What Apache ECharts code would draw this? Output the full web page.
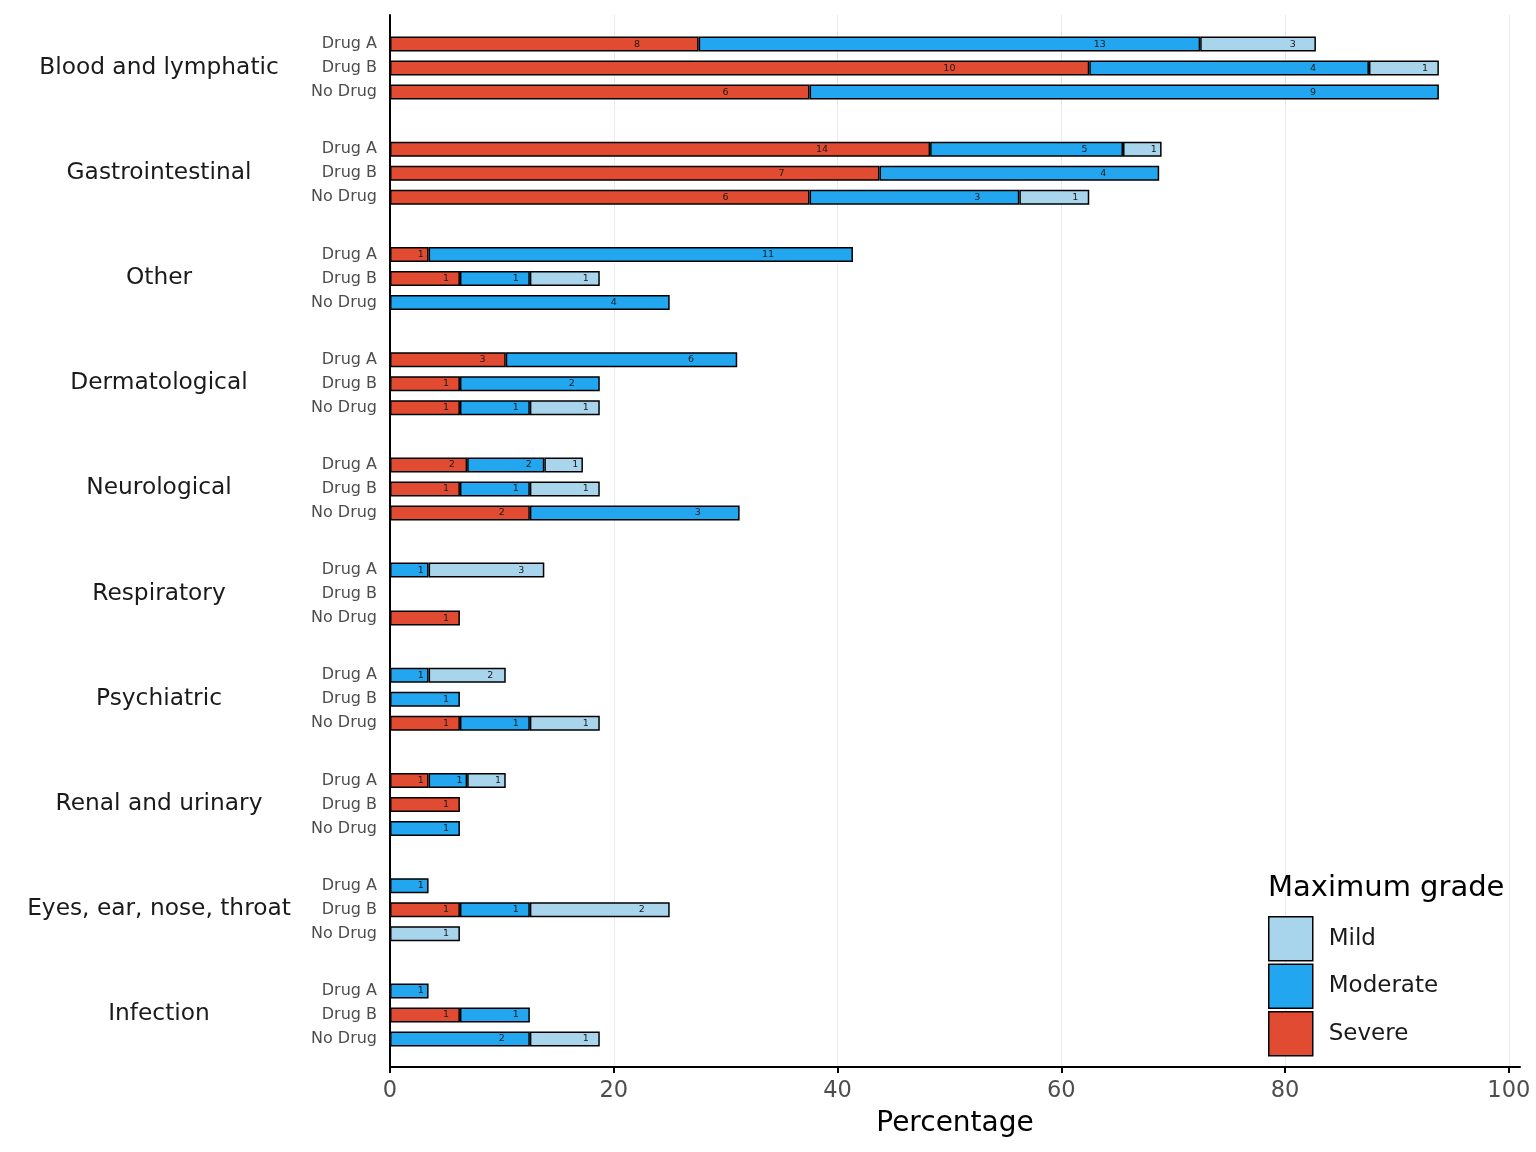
<!DOCTYPE html>
<html>
<head>
<meta charset="utf-8">
<script src="https://cdn.jsdelivr.net/npm/echarts@6/dist/echarts.min.js"></script>
<style>
html,body{margin:0;padding:0;background:#fff;}
#chart{width:1536px;height:1152px;}
</style>
</head>
<body>
<div id="chart"></div>
<script>
// ---- data ----
const groups = ['Blood and lymphatic','Gastrointestinal','Other','Dermatological','Neurological','Respiratory','Psychiatric','Renal and urinary','Eyes, ear, nose, throat','Infection'];
const arms = ['Drug A','Drug B','No Drug'];
const armSizes = [29, 16, 16];
const grades = ['Severe','Moderate','Mild'];
// counts per group: [Drug A, Drug B, No Drug]
const severeCounts   = [[8,10,6],[14,7,6],[1,1,0],[3,1,1],[2,1,2],[0,0,1],[0,0,1],[1,1,0],[0,1,0],[0,1,0]];
const moderateCounts = [[13,4,9],[5,4,3],[11,1,4],[6,2,1],[2,1,3],[1,0,0],[1,1,1],[1,0,1],[1,1,0],[1,1,2]];
const mildCounts     = [[3,1,0],[1,0,1],[0,1,0],[0,0,1],[1,1,0],[3,0,0],[2,0,1],[1,0,0],[0,2,1],[0,0,1]];
const xTicks = [0, 20, 40, 60, 80, 100];

// ---- style ----
const colors = { Severe: '#E14B31', Moderate: '#22A6EF', Mild: '#A8D5EC' };
const countsByGrade = { Severe: severeCounts, Moderate: moderateCounts, Mild: mildCounts };
const FONT = 'DejaVu Sans';
const plotLeft = 390, plotTop = 15, plotBottom = 1067, plotRight = 1520;
const panelH = (plotBottom - plotTop) / groups.length;
const rowH = 24, facetH = rowH * arms.length;
const xMax = 101;

const grid = [{ left: plotLeft, top: plotTop, width: plotRight - plotLeft, height: plotBottom - plotTop }];
const xAxis = [{
  type: 'value', gridIndex: 0, min: 0, max: xMax,
  axisLine: { show: true, lineStyle: { color: '#000', width: 2 } },
  axisTick: { show: true, length: 6, lineStyle: { color: '#000', width: 2 }, customValues: xTicks },
  axisLabel: { fontFamily: FONT, fontSize: 22.5, color: '#4d4d4d', margin: 13, customValues: xTicks },
  splitLine: { show: true, lineStyle: { color: '#ebebeb', width: 1 } },
  name: 'Percentage', nameLocation: 'middle', nameGap: 43,
  nameTextStyle: { fontFamily: FONT, fontSize: 28, color: '#000' }
}];
const yAxis = [{
  type: 'category', gridIndex: 0, data: groups, inverse: true,
  axisLine: { show: true, lineStyle: { color: '#000', width: 2 } },
  axisTick: { show: false },
  axisLabel: { fontFamily: FONT, fontSize: 23.3, color: '#1a1a1a', align: 'center', margin: plotLeft - 159 },
  splitLine: { show: false }
}];
const series = [];

groups.forEach((g, gi) => {
  const idx = gi + 1;
  grid.push({ left: plotLeft, width: plotRight - plotLeft, top: plotTop + panelH * gi + (panelH - facetH) / 2 + 0.5, height: facetH });
  xAxis.push({ type: 'value', gridIndex: idx, min: 0, max: xMax, show: false });
  yAxis.push({
    type: 'category', gridIndex: idx, data: arms, inverse: true,
    axisLine: { show: false }, axisTick: { show: false },
    axisLabel: { fontFamily: FONT, fontSize: 16, color: '#4d4d4d', margin: 13 }
  });
  grades.forEach(gr => {
    const counts = countsByGrade[gr][gi];
    series.push({
      type: 'bar', name: gr, stack: 'g' + gi, xAxisIndex: idx, yAxisIndex: idx,
      barWidth: 15,
      itemStyle: { color: colors[gr], borderColor: '#000', borderWidth: 1.5 },
      label: {
        show: true, position: ['80%', '50%'], align: 'center', verticalAlign: 'middle',
        fontFamily: FONT, fontSize: 9.5, color: '#1a1a1a',
        formatter: p => (p.data && p.data.count ? String(p.data.count) : '')
      },
      emphasis: { disabled: true },
      data: counts.map((c, ai) => c > 0 ? { value: c / armSizes[ai] * 100, count: c } : { value: null, count: 0 })
    });
  });
});

const chart = echarts.init(document.getElementById('chart'), null, { renderer: 'canvas' });
chart.setOption({
  backgroundColor: '#fff',
  animation: false,
  title: {
    text: 'Maximum grade', left: 1268, top: 874, padding: 0,
    textStyle: { fontFamily: FONT, fontSize: 29, fontWeight: 'normal', color: '#000' }
  },
  legend: {
    orient: 'vertical', left: 1268, top: 916, padding: 0,
    itemWidth: 44, itemHeight: 44, itemGap: 2, icon: 'rect',
    data: ['Mild', 'Moderate', 'Severe'],
    itemStyle: { borderColor: '#000', borderWidth: 1.5 },
    textStyle: { fontFamily: FONT, fontSize: 23, color: '#1a1a1a', padding: [0, 0, 0, 11] },
    selectedMode: false
  },
  grid, xAxis, yAxis, series
});
</script>
</body>
</html>
